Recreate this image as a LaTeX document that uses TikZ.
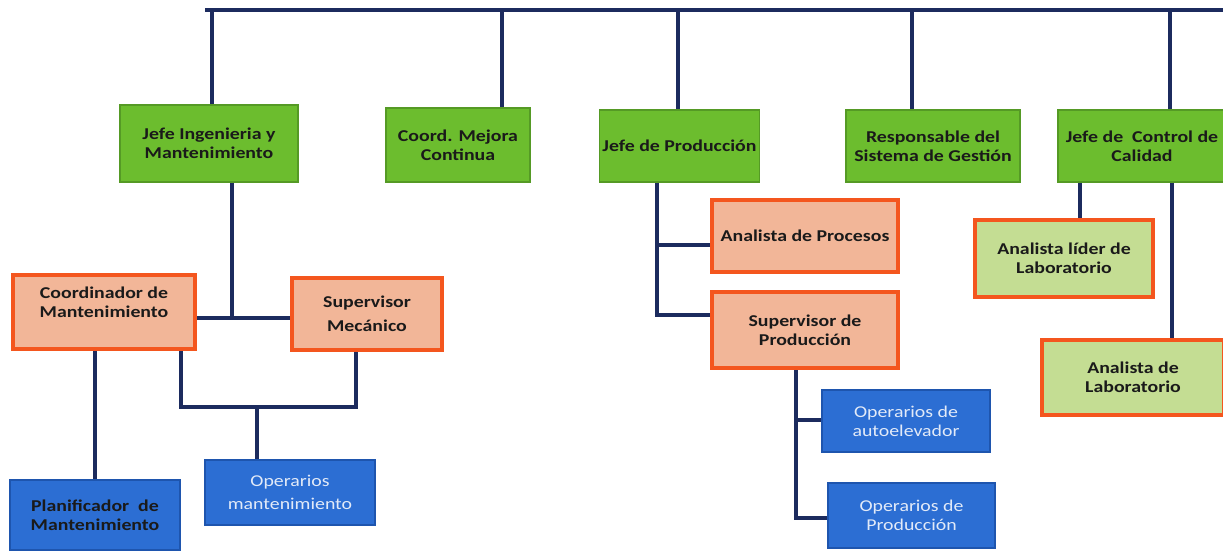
\documentclass[tikz,border=0pt]{standalone}
\usepackage{fontspec}
\setmainfont{Carlito}[FakeStretch=1.2]
\definecolor{navy}{HTML}{1C2B5E}
\definecolor{leafgreen}{HTML}{6CBD2E}
\definecolor{leafedge}{HTML}{559A25}
\definecolor{salmon}{HTML}{F2B698}
\definecolor{flame}{HTML}{F4561E}
\definecolor{palegreen}{HTML}{C4DD93}
\definecolor{royal}{HTML}{2C6ED3}
\definecolor{royaledge}{HTML}{1E55AE}
\definecolor{ink}{HTML}{1A1A1A}
\definecolor{lighttext}{HTML}{E2EAF8}
\tikzset{
  sz/.style 2 args={minimum width=#1*0.75pt, minimum height=#2*0.75pt},
  basebox/.style={rectangle, align=center, inner sep=2pt,
    font=\fontsize{12.4}{14}\selectfont},
  headbox/.style={basebox, fill=leafgreen, draw=leafedge, line width=0.8pt,
    text=ink, font=\fontsize{12.4}{14}\selectfont\bfseries},
  midbox/.style={basebox, fill=salmon, draw=flame, line width=3pt,
    text=ink, font=\fontsize{12.4}{14}\selectfont\bfseries},
  labbox/.style={basebox, fill=palegreen, draw=flame, line width=3pt,
    text=ink, font=\fontsize{12.4}{14}\selectfont\bfseries},
  opbox/.style={basebox, fill=royal, draw=royaledge, line width=1pt,
    text=lighttext},
  planbox/.style={basebox, fill=royal, draw=royaledge, line width=1pt,
    text=ink, font=\fontsize{12.4}{14}\selectfont\bfseries},
  conn/.style={draw=navy, line width=3pt}
}
\begin{document}
\begin{tikzpicture}[x=0.75pt, y=-0.75pt]
\useasboundingbox (0,0) rectangle (1223,554);
\clip (0,0) rectangle (1223,554);
\fill[white] (0,0) rectangle (1223,554);

% top-level heads
\node[headbox, sz={178}{77}] (A) at (209,143.5) {Jefe Ingenieria y\\Mantenimiento};
\node[headbox, sz={144}{74}] (B) at (458,145) {Coord. Mejora\\Continua};
\node[headbox, sz={145}{72}] (C) at (679.5,146) {Jefe de Producción};
\node[headbox, sz={174}{72}] (D) at (933,146) {Responsable del\\Sistema de Gestión};
\node[headbox, sz={168}{72}] (E) at (1142,146) {Jefe de~~Control de\\Calidad};

% maintenance branch
\node[midbox, sz={182}{74}, text depth=15pt] (F) at (104,312) {Coordinador de\\Mantenimiento};
\node[midbox, sz={150}{72}] (G) at (367,314) {Supervisor\\[4pt]Mecánico};
\node[planbox, sz={170}{70}] (H) at (95,515) {Planificador~~de\\Mantenimiento};
\node[opbox, sz={170}{65}] (I) at (290,492.5) {Operarios\\[3pt]mantenimiento};

% production branch
\node[midbox, sz={186}{72}] (J) at (805,236) {Analista de Procesos};
\node[midbox, sz={186}{76}] (K) at (805,330) {Supervisor de\\Producción};
\node[opbox, sz={168}{62}] (L) at (906,421) {Operarios de\\autoelevador};
\node[opbox, sz={167}{65}] (M) at (911.5,515.5) {Operarios de\\Producción};

% quality branch
\node[labbox, sz={178}{77}] (N) at (1064,258.5) {Analista líder de\\Laboratorio};
\node[labbox, sz={182}{75}] (O) at (1133,377.5) {Analista de\\Laboratorio};

% top bus and its drops
\coordinate (busL) at (205,10);
\coordinate (busR) at (1235,10);
\coordinate (b1) at (212,10);
\coordinate (b2) at (502,10);
\coordinate (b3) at (678,10);
\coordinate (b4) at (912,10);
\coordinate (b5) at (1170,10);
\draw[conn] (busL) -- (busR);
\draw[conn] (b1) -- (b1 |- A.north);
\draw[conn] (b2) -- (b2 |- B.north);
\draw[conn] (b3) -- (b3 |- C.north);
\draw[conn] (b4) -- (b4 |- D.north);
\draw[conn] (b5) -- (b5 |- E.north);

% maintenance links
\coordinate (jA) at (232,318);
\draw[conn] (jA |- A.south) -- (jA);
\draw[conn] (F.east |- jA) -- (G.west |- jA);
\draw[conn] (F.south -| H.north) -- (H.north);
\coordinate (c1) at (181,407);
\coordinate (c2) at (356,407);
\coordinate (jI) at (257,407);
\draw[conn] (c1 |- F.south) -- (c1) -- (c2) -- (c2 |- G.south);
\draw[conn] (jI) -- (jI |- I.north);

% production links
\coordinate (kJ) at (657,245);
\coordinate (kK) at (657,315);
\draw[conn] (kK |- C.south) -- (kK) -- (kK -| K.west);
\draw[conn] (kJ) -- (kJ -| J.west);
\coordinate (mL) at (796,420);
\coordinate (mM) at (796,518);
\draw[conn] (mM |- K.south) -- (mM) -- (mM -| M.west);
\draw[conn] (mL) -- (mL -| L.west);

% quality links
\coordinate (eN) at (1080,0);
\coordinate (eO) at (1172,0);
\draw[conn] (eN |- E.south) -- (eN |- N.north);
\draw[conn] (eO |- E.south) -- (eO |- O.north);
\end{tikzpicture}
\end{document}
